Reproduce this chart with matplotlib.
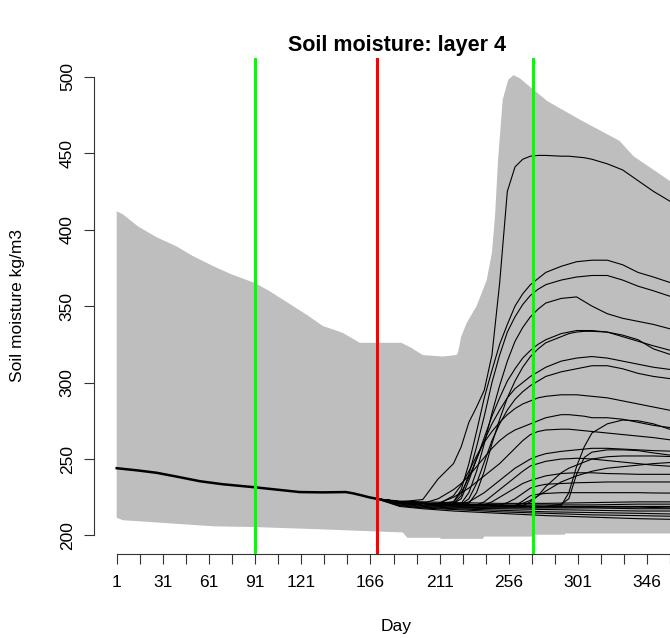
import matplotlib.pyplot as plt
import numpy as np

plt.rcParams['font.family'] = ['Liberation Sans', 'DejaVu Sans']
plt.rcParams['font.size'] = 12.5

# gray envelope (max / min)
upper_days = [1, 5, 15, 27, 40, 50, 64, 75, 91, 100, 111, 125, 135, 148, 159, 160, 186, 192, 200,
              213, 222, 223, 225, 228.6, 235, 241.6, 245, 247, 249, 252, 255.6, 259, 263, 272,
              281, 302, 328, 337, 361, 365]
upper_vals = [412, 410, 402, 395, 389, 383, 376, 371, 365, 360, 353, 344, 337, 332.5, 326, 326, 326,
              323, 318, 317, 318, 320, 330, 339, 350, 367, 385, 409, 446, 485, 498, 501, 499, 491.5,
              484, 472, 458, 448, 431.6, 430]
lower_days = [1, 5, 64, 91, 135, 160, 187, 190, 211, 212, 239, 240, 272, 273, 292, 293, 365]
lower_vals = [211.6, 210, 206, 205.5, 204, 203, 202, 198.5, 198.5, 197.8, 197.8, 199.3, 199.3, 200.5,
              200.5, 201.3, 201.3]

# observed line up to the forecast start
obs_days = [1, 15, 27, 40, 55, 70, 90, 105, 120, 135, 150, 155, 160, 165, 170]
obs_vals = [244, 242.5, 241, 238.5, 235.5, 233.5, 231.6, 230, 228.4, 228.2, 228.4, 227.5, 226.3, 225, 224]

# ensemble members that stay low
flat_days = [170, 185, 200, 220, 250, 280, 310, 340, 365]
flat_members = [
    [224, 222.5, 222, 221.5, 221, 221, 221.5, 222, 222],
    [224, 222, 221, 220.5, 220, 220, 220, 220.5, 220.5],
    [224, 221.5, 220, 219.5, 219, 219, 219, 219, 219],
    [224, 221, 219.5, 218.5, 218, 218, 218, 217.5, 217.5],
    [224, 220.5, 219, 218, 217.5, 217, 216.5, 216, 216],
    [224, 220, 218.5, 217.5, 216.5, 215.5, 215, 214.5, 214],
    [224, 219.5, 218, 217, 215.5, 214.5, 213.5, 213, 212.5],
    [224, 219, 217.5, 216, 214.5, 213, 212, 211, 210.5],
    [224, 221, 220, 219, 218.5, 218.5, 218.5, 218.5, 218],
]

# ensemble members that rise
riser_days = [170, 185, 200, 210, 220, 225, 230, 235, 240, 245, 250, 255, 260, 265, 270, 275, 280,
              290, 295, 300, 305, 310, 320, 330, 340, 350, 365]
riser_members = [
    [224, 222, 223.5, 237, 247, 258, 274, 284, 295, 318, 365, 425, 441, 446, 448, 448.5, 448.5, 448, 448, 447.5, 447, 446, 443, 439, 432, 425, 416],
    [224, 222, 221, 221, 222, 230, 247, 268, 290, 308, 325, 338, 350, 358, 364, 368, 372, 376, 377.5, 379, 379.5, 380, 380, 377, 372, 369, 364],
    [224, 222, 221, 220.5, 221, 226, 240, 258, 278, 300, 318, 333, 343, 351, 357, 361, 364, 367, 368, 369, 369.5, 370, 370, 367, 363, 360, 355],
    [224, 222, 221, 220.5, 220.5, 221, 228, 242, 260, 280, 298, 314, 327, 336, 343, 348, 352, 355, 355.5, 356, 353, 350, 345, 342, 340, 338, 334],
    [224, 222, 221, 220.5, 221, 224, 236, 250, 264, 278, 290, 301, 309, 316, 321, 325, 328, 332, 333, 334, 334, 334, 333, 330, 327, 324, 320],
    [224, 222, 221, 220.5, 220.5, 220.5, 221, 228, 242, 260, 276, 290, 301, 310, 317, 322, 326, 330, 332, 333, 333.5, 333.5, 333, 331, 328, 322, 317],
    [224, 222, 221, 220.5, 222, 228, 238, 250, 262, 273, 282, 290, 296, 300, 304, 307, 310, 314, 315, 316, 316.5, 317, 316, 314, 312, 310, 308],
    [224, 222, 221, 220.5, 220.5, 220.5, 224, 234, 248, 262, 273, 282, 289, 294, 298, 301, 304, 307, 308, 309, 310, 311, 311, 309, 306, 304, 302],
    [224, 222, 221, 220.5, 226, 233, 242, 252, 261, 268, 274, 279, 283, 286, 288, 290, 291, 292, 292, 292, 291.5, 291, 290, 288, 286, 284, 281],
    [224, 222, 221, 224, 230, 234, 239, 245, 251, 257, 262, 266, 269, 271, 273, 275, 277, 279, 279, 278.5, 278, 277, 277, 276, 274, 272, 270],
    [224, 222, 221, 220.5, 220, 220, 220, 219.8, 219.6, 219.5, 219.4, 219.3, 219.2, 219.1, 219, 219, 219, 219.5, 228, 245, 258, 267, 273, 275.5, 275, 273, 268],
    [224, 222, 221, 221, 225, 228, 231, 235, 239, 243, 247, 252, 257, 262, 266, 268, 269, 269.5, 269.5, 269, 268.5, 268, 267, 266, 265, 264, 262],
    [224, 222, 221, 220.5, 220.5, 220.5, 222, 225, 228, 232, 236, 240, 244, 247, 250, 252, 253.5, 255, 255.5, 256, 256.5, 257, 257, 256.5, 256, 255.5, 255],
    [224, 222, 221, 220.5, 220.3, 220.2, 220.1, 220, 222, 226, 230, 234, 238, 242, 245.5, 247, 248.5, 250, 250.2, 250.5, 250.3, 250, 249, 248, 247, 246, 245],
    [224, 222, 221, 220.5, 220.3, 220.2, 220.1, 220, 219.9, 222, 225, 228, 231, 234, 236, 237.5, 239, 240.5, 240.8, 241, 241, 241, 240.5, 240.3, 240, 240, 240],
    [224, 222, 221, 220.5, 220.3, 220.2, 220.1, 220, 219.9, 219.8, 219.7, 221.5, 224, 227.5, 231, 232.5, 233.5, 234, 234.2, 234.5, 234.6, 234.7, 235, 235, 235, 235, 235],
    [224, 222, 221, 220.5, 220.3, 220.2, 220.1, 220, 219.9, 219.8, 219.7, 219.6, 219.5, 222.5, 226, 227, 227.5, 228, 228, 228, 228, 228, 228, 228, 228, 227.8, 227.7],
    [224, 222, 221, 220.5, 220.3, 220.2, 220.1, 220, 219.9, 219.8, 219.7, 219.6, 219.5, 219.5, 222, 226, 232, 241, 244, 246, 248, 250, 251.5, 252, 252, 252, 251.5],
    [224, 222, 221, 220.5, 220.3, 220.2, 220.1, 220, 219.9, 219.8, 219.7, 219.6, 219.5, 221, 223, 226, 229, 235, 237, 239, 240.5, 242, 244, 245, 246, 247, 248],
    [224, 222, 221, 220.5, 220.3, 220.2, 220.1, 220, 219.9, 219.8, 219.7, 219.6, 219.5, 219.4, 219.3, 219.2, 219.1, 220.5, 224, 240, 251, 254.5, 256, 256, 255.5, 254, 252],
]

green_days = [91, 272]
red_day = 170

xticks = np.arange(1, 362, 15)
xlabel_days = [1, 31, 61, 91, 121, 166, 211, 256, 301, 346]
yticks = [200, 250, 300, 350, 400, 450, 500]

W, H = 670, 638
fig = plt.figure(figsize=(W / 100, H / 100), dpi=100)
# plot region runs past the right edge of the image, like the original
ax = fig.add_axes([94.3 / W, 1 - 554 / H, 604.6 / W, 496 / H])

env_x = upper_days + lower_days[::-1]
env_y = upper_vals + lower_vals[::-1]
ax.fill(env_x, env_y, color='#BEBEBE', lw=0, zorder=1)

for vals in flat_members:
    ax.plot(flat_days, vals, color='black', lw=0.8, zorder=2)
for vals in riser_members:
    ax.plot(riser_days, vals, color='black', lw=0.8, zorder=2)
ax.plot(obs_days, obs_vals, color='black', lw=1.8, zorder=3)

for d in green_days:
    ax.axvline(d, color='#00FF00', lw=2.2, zorder=4)
ax.axvline(red_day, color='#FF0000', lw=2.2, zorder=4)

ax.set_xlim(-13.56, 379.56)
ax.set_ylim(187.9, 512.2)

ax.set_xticks(xticks)
ax.set_xticklabels([str(d) if d in xlabel_days else '' for d in xticks])
ax.set_yticks(yticks)
ax.set_yticklabels([str(v) for v in yticks])

for s in ['top', 'right']:
    ax.spines[s].set_visible(False)
ax.spines['left'].set_bounds(200, 500)
ax.spines['bottom'].set_bounds(1, 361)
for s in ['left', 'bottom']:
    ax.spines[s].set_color('#333333')
    ax.spines[s].set_linewidth(0.8)

ax.tick_params(direction='out', length=7, width=0.8, color='#333333', labelsize=12.5)
ax.tick_params(axis='x', pad=8)
ax.tick_params(axis='y', pad=7, labelrotation=90)
for lbl in ax.get_yticklabels():
    lbl.set_va('center')

cx = (94.3 + 94.3 + 604.6) / 2 / W
fig.text(cx, 1 - 45 / H, 'Soil moisture: layer 4', ha='center', va='center',
         fontsize=15.5, fontweight='bold')
fig.text(cx, 1 - 627 / H, 'Day', ha='center', va='center')
fig.text(18 / W, 1 - 306 / H, 'Soil moisture kg/m3', rotation=90, ha='center', va='center')

fig.savefig('out.png', dpi=100)
